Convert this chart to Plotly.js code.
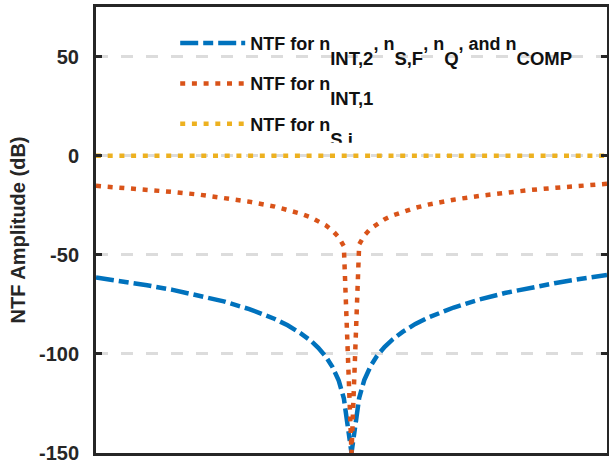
<!DOCTYPE html>
<html>
<head>
<meta charset="utf-8">
<script src="https://cdn.plot.ly/plotly-3.0.1.min.js"></script>
<style>html,body{margin:0;padding:0;background:#fff;}#chart{width:609px;height:466px;}</style>
</head>
<body>
<div id="chart"></div>
<script>
// Normalized frequency offset from the notch (centre = 0)
var freq = [-1.0, -0.9, -0.8, -0.7, -0.6, -0.5, -0.4, -0.3, -0.25, -0.2, -0.16, -0.13, -0.1, -0.075, -0.05, -0.03, 0,
            0.03, 0.05, 0.075, 0.1, 0.13, 0.16, 0.2, 0.25, 0.3, 0.4, 0.5, 0.6, 0.7, 0.8, 0.9, 1.0];
// NTF for n_INT,2, n_S,F, n_Q, n_COMP (dB)
var ntfInt2 = [-61.5, -63.3, -65.4, -67.7, -70.4, -73.5, -77.4, -82.4, -85.6, -89.5, -93.3, -96.9, -101.5, -106.5, -113.5, -122.4, -150,
               -122.2, -113.2, -106.1, -101.0, -96.4, -92.8, -88.9, -84.9, -81.7, -76.6, -72.6, -69.3, -66.6, -64.2, -62.1, -60.2];
// NTF for n_INT,1 (dB)
var ntfInt1 = [-15.2, -16.1, -17.1, -18.3, -19.6, -21.2, -23.2, -25.7, -27.2, -29.2, -31.1, -32.9, -35.2, -37.7, -41.2, -45.7, -150,
               -44.8, -40.3, -36.8, -34.3, -32.0, -30.2, -28.2, -26.3, -24.7, -22.2, -20.3, -18.7, -17.3, -16.2, -15.1, -14.2];
// NTF for n_S,i (dB)
var ntfSi = [0, 0, 0, 0, 0, 0, 0, 0, 0, 0, 0, 0, 0, 0, 0, 0, 0,
             0, 0, 0, 0, 0, 0, 0, 0, 0, 0, 0, 0, 0, 0, 0, 0];
var yTicks = [-150, -100, -50, 0, 50];
var yTickText = ['-150', '-100', '-50', '0', '50'];
function sb(t) { return '<sub><span style="font-size:18.5px;baseline-shift:-11px">' + t + '</span></sub>'; }
var names = [
  'NTF for n' + sb('INT,2') + ', n' + sb('S,F') + ', n' + sb('Q') + ', and n' + sb('COMP'),
  'NTF for n' + sb('INT,1'),
  'NTF for n' + sb('S,i')
];

var font = '"Liberation Sans", Arial, Helvetica, sans-serif';
var traces = [
  {x: freq, y: ntfInt2, name: names[0], legendgroup: 'g1', mode: 'lines', line: {color: '#0072BD', width: 4.5, dash: '18px,5px,10px,5px'}},
  {x: freq, y: ntfInt1, name: names[1], legendgroup: 'g2', mode: 'lines', line: {color: '#D95319', width: 4.5, dash: '5px,6.7px'}},
  {x: freq, y: ntfSi, name: names[2], legendgroup: 'g3', mode: 'lines', line: {color: '#EDB120', width: 4.5, dash: '5px,6.7px'}}
];
var layout = {
  width: 609, height: 466,
  margin: {l: 96, r: 2, t: 7, b: 13},
  paper_bgcolor: '#ffffff', plot_bgcolor: '#ffffff',
  font: {family: font, color: '#262626'},
  showlegend: true,
  legend: {x: 0.155, y: 0.96, xanchor: 'left', yanchor: 'top', bgcolor: 'rgba(0,0,0,0)',
           traceorder: 'grouped', tracegroupgap: 14,
           font: {family: font, size: 18, color: '#111', weight: 'bold'}, itemwidth: 65},
  xaxis: {range: [-1, 1], showticklabels: false, ticks: '', showgrid: false, zeroline: false,
          showline: true, linecolor: '#262626', linewidth: 3, mirror: true},
  yaxis: {range: [-150, 75], tickvals: yTicks, ticktext: yTickText, ticks: 'inside', ticklen: 6, tickwidth: 3,
          tickcolor: '#262626', ticklabelstandoff: 10, ticklabeloverflow: 'allow',
          tickfont: {family: font, size: 20, color: '#262626', weight: 'bold'},
          showgrid: true, gridcolor: '#dcdcdc', gridwidth: 3, griddash: '12px,13px', zeroline: false,
          showline: true, linecolor: '#262626', linewidth: 3, mirror: 'ticks',
          title: {text: 'NTF Amplitude (dB)', font: {family: font, size: 20, color: '#262626', weight: 'bold'}, standoff: 8}}
};
Plotly.newPlot('chart', traces, layout, {displayModeBar: false, staticPlot: true});
</script>
</body>
</html>
